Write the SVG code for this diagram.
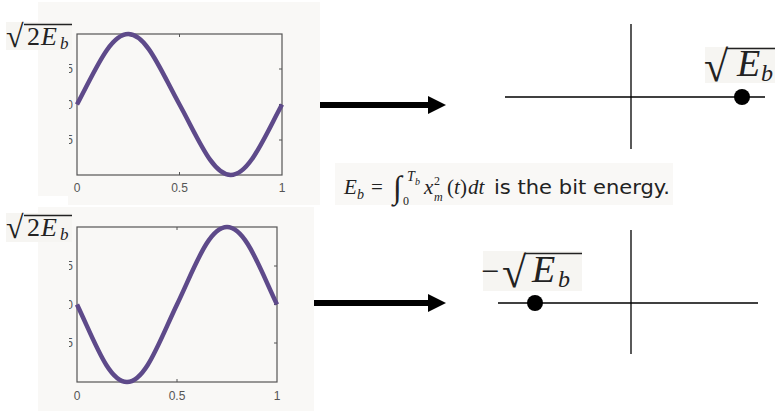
<svg xmlns="http://www.w3.org/2000/svg" width="775" height="413" viewBox="0 0 775 413">
<defs>
<style>
.panel{fill:#f9f8f6}
.lblbg{fill:#f6f5f2}
.frame{fill:none;stroke:#555;stroke-width:1.2}
.wave{fill:none;stroke:#5e4a8a;stroke-width:4.5;stroke-linejoin:round}
.tick{font-family:"Liberation Sans",Arial,sans-serif;font-size:12px;fill:#555}
.math{font-family:"Liberation Serif","Times New Roman",serif;font-style:italic;fill:#222}
.rm{font-family:"Liberation Serif","Times New Roman",serif;fill:#222}
.sans{font-family:"DejaVu Sans",sans-serif;fill:#222}
.axis{stroke:#000;stroke-width:1.3}
.conn{stroke:#000;stroke-width:6}
.over{stroke:#222;stroke-width:1.3}
</style>
<marker id="ah" viewBox="0 0 10 10" refX="0" refY="5" markerWidth="3" markerHeight="3" orient="auto" markerUnits="strokeWidth">
<path d="M0,0 L10,5 L0,10 z" fill="#000"/>
</marker>
<clipPath id="c1"><rect x="69" y="30" width="12" height="160"/></clipPath>
<clipPath id="c2"><rect x="69" y="220" width="12" height="170"/></clipPath>
</defs>

<g id="plot1">
<rect class="panel" x="38" y="2" width="282" height="203"/>
<rect x="38" y="196" width="30" height="10" fill="#fff"/>
<rect class="frame" x="77" y="34" width="205" height="141"/>
<path d="M179.5,175 v-3 M179.5,34 v3 M282,69 h-3 M282,104.5 h-3 M282,140 h-3" stroke="#555" stroke-width="1"/>
<g clip-path="url(#c1)">
<text class="tick" x="73" y="73" text-anchor="end">0.5</text>
<text class="tick" x="73" y="108.5" text-anchor="end">0</text>
<text class="tick" x="73" y="144" text-anchor="end">-0.5</text>
</g>
<path class="wave" d="M77,104.5 C95,71 110,34 128.25,34 C146.5,34 161,71 179.5,104.5 C198,138 212.5,175 230.75,175 C249,175 264,138 282,104.5"/>
<text class="tick" x="77" y="192" text-anchor="middle">0</text>
<text class="tick" x="179.5" y="192" text-anchor="middle">0.5</text>
<text class="tick" x="282" y="192" text-anchor="middle">1</text>
<rect class="lblbg" x="6" y="22" width="66" height="28"/>
<text class="rm" x="6" y="47" font-size="32">√</text>
<line class="over" x1="24" y1="24.5" x2="72" y2="24.5"/>
<text class="rm" x="27" y="45" font-size="26">2</text>
<text class="math" x="41" y="45" font-size="26">E</text>
<text class="math" x="60" y="49" font-size="17">b</text>
</g>

<g id="plot2">
<rect class="panel" x="38" y="207" width="276" height="204"/>
<rect class="frame" x="77" y="227" width="200" height="155"/>
<path d="M177,382 v-3 M177,227 v3 M277,266 h-3 M277,304.5 h-3 M277,343 h-3" stroke="#555" stroke-width="1"/>
<g clip-path="url(#c2)">
<text class="tick" x="73" y="270" text-anchor="end">0.5</text>
<text class="tick" x="73" y="308.5" text-anchor="end">0</text>
<text class="tick" x="73" y="347" text-anchor="end">-0.5</text>
</g>
<path class="wave" d="M77,304.5 C94.5,341 108.5,382 127,382 C145.5,382 159.5,341 177,304.5 C194.5,268 208.5,227 227,227 C245.5,227 259.5,268 277,304.5"/>
<text class="tick" x="77" y="400" text-anchor="middle">0</text>
<text class="tick" x="177" y="400" text-anchor="middle">0.5</text>
<text class="tick" x="277" y="400" text-anchor="middle">1</text>
<rect class="lblbg" x="6" y="213" width="66" height="29"/>
<text class="rm" x="6" y="238" font-size="32">√</text>
<line class="over" x1="24" y1="215.5" x2="72" y2="215.5"/>
<text class="rm" x="27" y="236" font-size="26">2</text>
<text class="math" x="41" y="236" font-size="26">E</text>
<text class="math" x="60" y="240" font-size="17">b</text>
</g>

<g id="formula">
<rect class="panel" x="335" y="163" width="338" height="42"/>
<text class="math" x="344" y="194" font-size="21">E</text>
<text class="math" x="357" y="199" font-size="14">b</text>
<text class="rm" x="371" y="194" font-size="21">=</text>
<text class="rm" x="393" y="198" font-size="32">∫</text>
<text class="math" x="407" y="181" font-size="14">T</text>
<text class="math" x="415" y="185" font-size="10">b</text>
<text class="rm" x="403" y="205" font-size="12">0</text>
<text class="math" x="424" y="194" font-size="21">x</text>
<text class="rm" x="434" y="185" font-size="12">2</text>
<text class="math" x="434" y="201" font-size="12">m</text>
<text class="rm" x="447" y="194" font-size="21">(</text>
<text class="math" x="454" y="194" font-size="21">t</text>
<text class="rm" x="460" y="194" font-size="21">)</text>
<text class="math" x="468" y="194" font-size="21">dt</text>
<text class="sans" x="494" y="194" font-size="19" textLength="176" lengthAdjust="spacingAndGlyphs">is the bit energy.</text>
</g>

<g id="const1">
<line class="axis" x1="505" y1="97" x2="765" y2="97"/>
<line class="axis" x1="631" y1="24" x2="631" y2="149"/>
<circle cx="742" cy="97" r="8" fill="#000"/>
<rect class="lblbg" x="705" y="47" width="70" height="36"/>
<text class="rm" x="704" y="81" font-size="44">√</text>
<line class="over" x1="727" y1="48.5" x2="775" y2="48.5"/>
<text class="math" x="737" y="76" font-size="38">E</text>
<text class="math" x="761" y="81" font-size="24">b</text>
</g>

<g id="const2">
<line class="axis" x1="498" y1="303" x2="758" y2="303"/>
<line class="axis" x1="631" y1="230" x2="631" y2="354"/>
<circle cx="535" cy="303" r="8" fill="#000"/>
<rect class="lblbg" x="483" y="251" width="99" height="40"/>
<text class="rm" x="481" y="282" font-size="32">−</text>
<text class="rm" x="502" y="287" font-size="44">√</text>
<line class="over" x1="525" y1="253.5" x2="582" y2="253.5"/>
<text class="math" x="532" y="282" font-size="38">E</text>
<text class="math" x="558" y="287" font-size="24">b</text>
</g>

<g id="connectors">
<line class="conn" x1="320" y1="105" x2="428" y2="105" marker-end="url(#ah)"/>
<line class="conn" x1="314" y1="303" x2="428" y2="303" marker-end="url(#ah)"/>
</g>
</svg>
